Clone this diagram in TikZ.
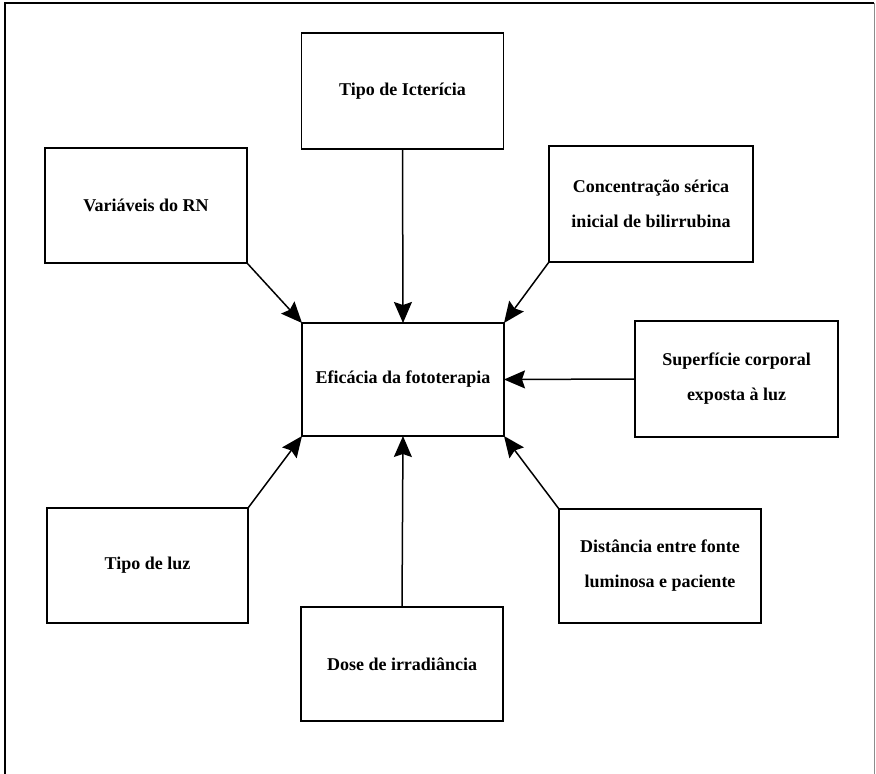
\documentclass[tikz,border=0pt]{standalone}
\usepackage{fontspec}
\setmainfont{Liberation Serif}
\usetikzlibrary{arrows.meta}
\begin{document}
\begin{tikzpicture}[x=1pt,y=-1pt,
  box/.style={draw=black, line width=1.5pt, inner sep=0pt, outer sep=0pt,
    minimum width=202pt, minimum height=115pt, align=center,
    font={\fontsize{18}{35}\selectfont\bfseries}},
  conn/.style={line width=1.5pt, -{Stealth[length=21pt,width=18pt,inset=3pt]}},
  frame/.style={line width=1.5pt}]
\useasboundingbox (0,0) rectangle (876,774);
\coordinate (fbl) at (5,774);
\coordinate (ftl) at (5,3);
\coordinate (ftr) at (874,3);
\coordinate (fbr) at (874,774);
\draw[frame] (fbl) -- (ftl) -- (ftr);
\draw[line width=0.8pt, black!45] (ftr) -- (fbr);

\node[box, minimum height=113pt] (ef) at (403,379.5) {Eficácia da fototerapia};
\node[box, minimum height=116pt] (ict) at (402.5,91) {Tipo de Icterícia};
\node[box] (var) at (146,205.5) {Variáveis do RN};
\node[box, minimum width=204pt, minimum height=116pt] (conc) at (651,204) {Concentração sérica\\inicial de bilirrubina};
\node[box, minimum width=203pt, minimum height=116pt] (sup) at (736.5,379) {Superfície corporal\\exposta à luz};
\node[box, minimum width=201pt] (luz) at (147.5,565.5) {Tipo de luz};
\node[box, minimum height=114pt] (dose) at (402,664) {Dose de irradiância};
\node[box, minimum height=114pt] (dist) at (660,566) {Distância entre fonte\\luminosa e paciente};

\draw[conn] (var.south east) -- (ef.north west);
\draw[conn] (ict.south) -- (ef.north);
\draw[conn] (conc.south west) -- (ef.north east);
\draw[conn] (sup.west) -- (ef.east);
\draw[conn] (luz.north east) -- (ef.south west);
\draw[conn] (dose.north) -- (ef.south);
\draw[conn] (dist.north west) -- (ef.south east);
\end{tikzpicture}
\end{document}
